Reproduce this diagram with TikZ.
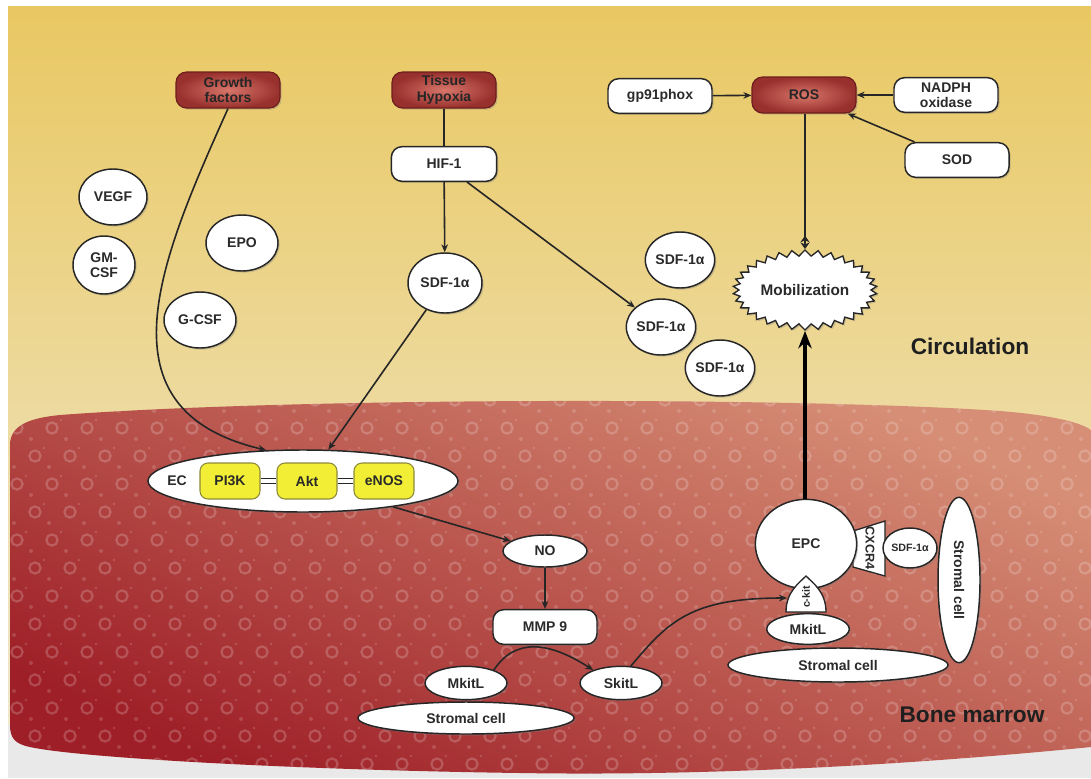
\documentclass[tikz,border=0pt]{standalone}
\usepackage{fontspec}
\setmainfont{Liberation Sans}
\usetikzlibrary{shapes.geometric,shapes.symbols,arrows.meta,calc,shadows}
\definecolor{bgtop}{HTML}{E9C862}
\definecolor{bgbot}{HTML}{F0E9D2}
\definecolor{bggray}{HTML}{E9E9E9}
\definecolor{marrowtop}{HTML}{D68E76}
\definecolor{marrowbot}{HTML}{9E1F27}
\definecolor{rosein}{HTML}{D8766A}
\definecolor{roseout}{HTML}{98302D}
\definecolor{rosedge}{HTML}{6E1E1C}
\definecolor{edge}{HTML}{262626}
\definecolor{txt}{HTML}{2A2A2A}
\definecolor{yfill}{HTML}{F1EE35}
\definecolor{yedge}{HTML}{8C8A3A}
\begin{document}
\begin{tikzpicture}[x=0.75pt,y=-0.75pt,
  base/.style={font=\bfseries\fontsize{10.5}{11.5}\selectfont, text=txt, align=center, inner sep=1pt},
  shad/.style={drop shadow={shadow xshift=1.2pt,shadow yshift=-1.2pt,opacity=.35}},
  wbox/.style={base, shad, rectangle, rounded corners=8pt, draw=edge, line width=1.1pt, fill=white, minimum width=78pt, minimum height=26pt},
  rbox/.style={base, shad, rectangle, rounded corners=8pt, draw=rosedge, line width=0.9pt, inner color=rosein, outer color=roseout, minimum width=78pt, minimum height=27pt, text=black!85},
  wcirc/.style={base, shad, ellipse, draw=edge, line width=1.1pt, fill=white, inner sep=0pt},
  ybox/.style={base, rectangle, rounded corners=6pt, draw=yedge, line width=0.8pt, fill=yfill, minimum width=45pt, minimum height=27pt},
  lin/.style={draw=edge, line width=1.2pt},
  arr/.style={lin, -{Stealth[length=6pt,width=5pt]}},
  ring/.style={draw=white, opacity=.2, line width=1.6pt},
  dotc/.style={fill=white, opacity=.16},
  big/.style={font=\bfseries\fontsize{17}{19}\selectfont, text=black!88}
]
\useasboundingbox (0,0) rectangle (1091,778);
\fill[white] (0,0) rectangle (1091,778);
\shade[top color=bgtop, bottom color=bgbot] (8,6) rectangle (1091,760);
\fill[bggray] (8,725) rectangle (1091,778);

% bone marrow region
\shade[top color=marrowtop, bottom color=marrowbot, shading angle=-25]
  (10,725) -- (10,445) .. controls (10,425) and (30,418) .. (60,415)
  .. controls (300,397) and (800,397) .. (1000,411)
  .. controls (1050,415) and (1080,422) .. (1091,430) -- (1091,747)
  .. controls (900,766) and (700,776) .. (520,773)
  .. controls (300,770) and (80,758) .. (30,747)
  .. controls (15,744) and (10,738) .. (10,725) -- cycle;
\begin{scope}
\clip (10,725) -- (10,445) .. controls (10,425) and (30,418) .. (60,415)
  .. controls (300,397) and (800,397) .. (1000,411)
  .. controls (1050,415) and (1080,422) .. (1091,430) -- (1091,747)
  .. controls (900,766) and (700,776) .. (520,773)
  .. controls (300,770) and (80,758) .. (30,747)
  .. controls (15,744) and (10,738) .. (10,725) -- cycle;
\foreach \i in {0,...,31}{\foreach \j in {0,...,13}{
  \draw[ring] ({\i*35+mod(\j,2)*17},{400+\j*28}) circle[radius=4.2pt];
  \fill[dotc] ({\i*35+mod(\j,2)*17+14},{400+\j*28+11}) circle[radius=1.5pt];
  \fill[dotc] ({\i*35+mod(\j,2)*17+9},{400+\j*28-8}) circle[radius=1pt];
}}
\end{scope}

% circulation nodes
\node[rbox] (gf) at (228,90) {Growth\\factors};
\node[rbox] (th) at (444,90) {Tissue\\Hypoxia};
\node[rbox] (ros) at (804,95) {ROS};
\node[wbox] (gp) at (660,96) {gp91phox};
\node[wbox] (nadph) at (946,95) {NADPH\\oxidase};
\node[wbox] (sod) at (957,160) {SOD};
\node[wbox, minimum width=79pt] (hif) at (444,164) {HIF-1};
\node[wcirc, minimum width=51pt, minimum height=42pt] (vegf) at (113,197) {VEGF};
\node[wcirc, minimum width=46.5pt, minimum height=43.5pt] (gmcsf) at (104,265) {GM-\\CSF};
\node[wcirc, minimum width=54pt, minimum height=42pt] (epo) at (242,243) {EPO};
\node[wcirc, minimum width=54pt, minimum height=42pt] (gcsf) at (200,320) {G-CSF};
\node[wcirc, minimum width=55.5pt, minimum height=45pt] (sdfa) at (445,283) {SDF-1α};
\node[wcirc, minimum width=50pt, minimum height=42pt] (sdfb) at (680,260) {SDF-1α};
\node[wcirc, minimum width=50pt, minimum height=42pt] (sdfc) at (661,327) {SDF-1α};
\node[wcirc, minimum width=50pt, minimum height=42pt] (sdfd) at (720,368) {SDF-1α};
\node[base, shad, starburst, starburst points=34, starburst point height=4.5pt, random starburst=0,
      draw=edge, line width=1pt, fill=white, minimum width=108pt, minimum height=60pt, inner sep=0pt,
      font=\bfseries\fontsize{11.5}{13}\selectfont] (mob) at (805,290) {Mobilization};
\node[big] (circ) at (970,346) {Circulation};

% endothelial cell
\node[wcirc, minimum width=232.5pt, minimum height=46.5pt] (ec) at (303,481) {};
\node[base] (eclab) at (177,481) {EC};
\node[ybox] (pi) at (230,481) {PI3K};
\node[ybox] (akt) at (307,481) {Akt};
\node[ybox] (enos) at (384,481) {eNOS};
\draw[edge, line width=0.8pt, double=white, double distance=2.4pt] (pi.east) -- (akt.west);
\draw[edge, line width=0.8pt, double=white, double distance=2.4pt] (akt.east) -- (enos.west);

\node[wcirc, minimum width=63pt, minimum height=24pt] (no) at (545,551) {NO};
\node[wbox] (mmp) at (545,627) {MMP 9};
\node[wcirc, minimum width=162pt, minimum height=24pt] (str1) at (466,718) {Stromal cell};
\node[wcirc, minimum width=61.5pt, minimum height=25pt] (mk1) at (466,683) {MkitL};
\node[wcirc, minimum width=61.5pt, minimum height=25pt] (sk) at (621,683) {SkitL};

% EPC niche
\filldraw[fill=white, draw=edge, line width=1pt] (853,531) -- (885,521) -- (885,576) -- (853,567) -- cycle;
\node[wcirc, minimum width=76pt, minimum height=67pt] (epc) at (806,544) {EPC};
\node[base, rotate=-90, font=\bfseries\fontsize{9.5}{10}\selectfont] (cxcr) at (870,548) {CXCR4};
\filldraw[fill=white, draw=edge, line width=1pt] (786,612) .. controls (786,592) and (799,583) .. (806,576)
  .. controls (813,583) and (826,592) .. (826,612) -- cycle;
\node[base, rotate=90, font=\bfseries\fontsize{8}{9}\selectfont] (ckit) at (806,597) {c-kit};
\coordinate (ckitw) at (787,598);
\node[wcirc, minimum width=62pt, minimum height=23pt] (mk2) at (808,629) {MkitL};
\node[wcirc, minimum width=40.5pt, minimum height=30pt, font=\bfseries\fontsize{8}{9}\selectfont] (sdfs) at (910,548) {SDF-1α};
\node[wcirc, rotate=-90, minimum width=124pt, minimum height=31.5pt] (str3) at (959,580) {Stromal cell};
\node[wcirc, minimum width=165pt, minimum height=25.5pt] (str2) at (838,665) {Stromal cell};
\node[big] (bm) at (972,715) {Bone marrow};

% connectors
\draw[lin] (th) -- (hif);
\draw[arr] (hif) -- (sdfa);
\draw[arr] ($(hif.south)+(23,0)$) -- (sdfc);
\draw[arr] (gf.south) .. controls (160,260) and (95,410) .. (ec.140);
\draw[arr] (sdfa) -- (ec.51);
\draw[arr] (gp) -- (ros);
\draw[arr] (nadph) -- (ros);
\draw[arr] (sod) -- (ros);
\draw[lin, -{Stealth[length=5pt,width=7pt,reversed]Stealth[length=5pt,width=7pt]}] (ros.south -| mob.north) -- (mob.north);
\draw[draw=black, line width=3.4pt, -{Stealth[length=13pt,width=10pt]}] (epc.north -| mob.south) -- (mob.south);
\draw[arr] (ec.-16) -- (no);
\draw[arr] (no) -- (mmp);
\draw[arr] (mk1.25) .. controls (515,638) and (548,641) .. (sk.155);
\draw[arr] (sk.60) .. controls (668,622) and (690,598) .. (ckitw);
\end{tikzpicture}
\end{document}
